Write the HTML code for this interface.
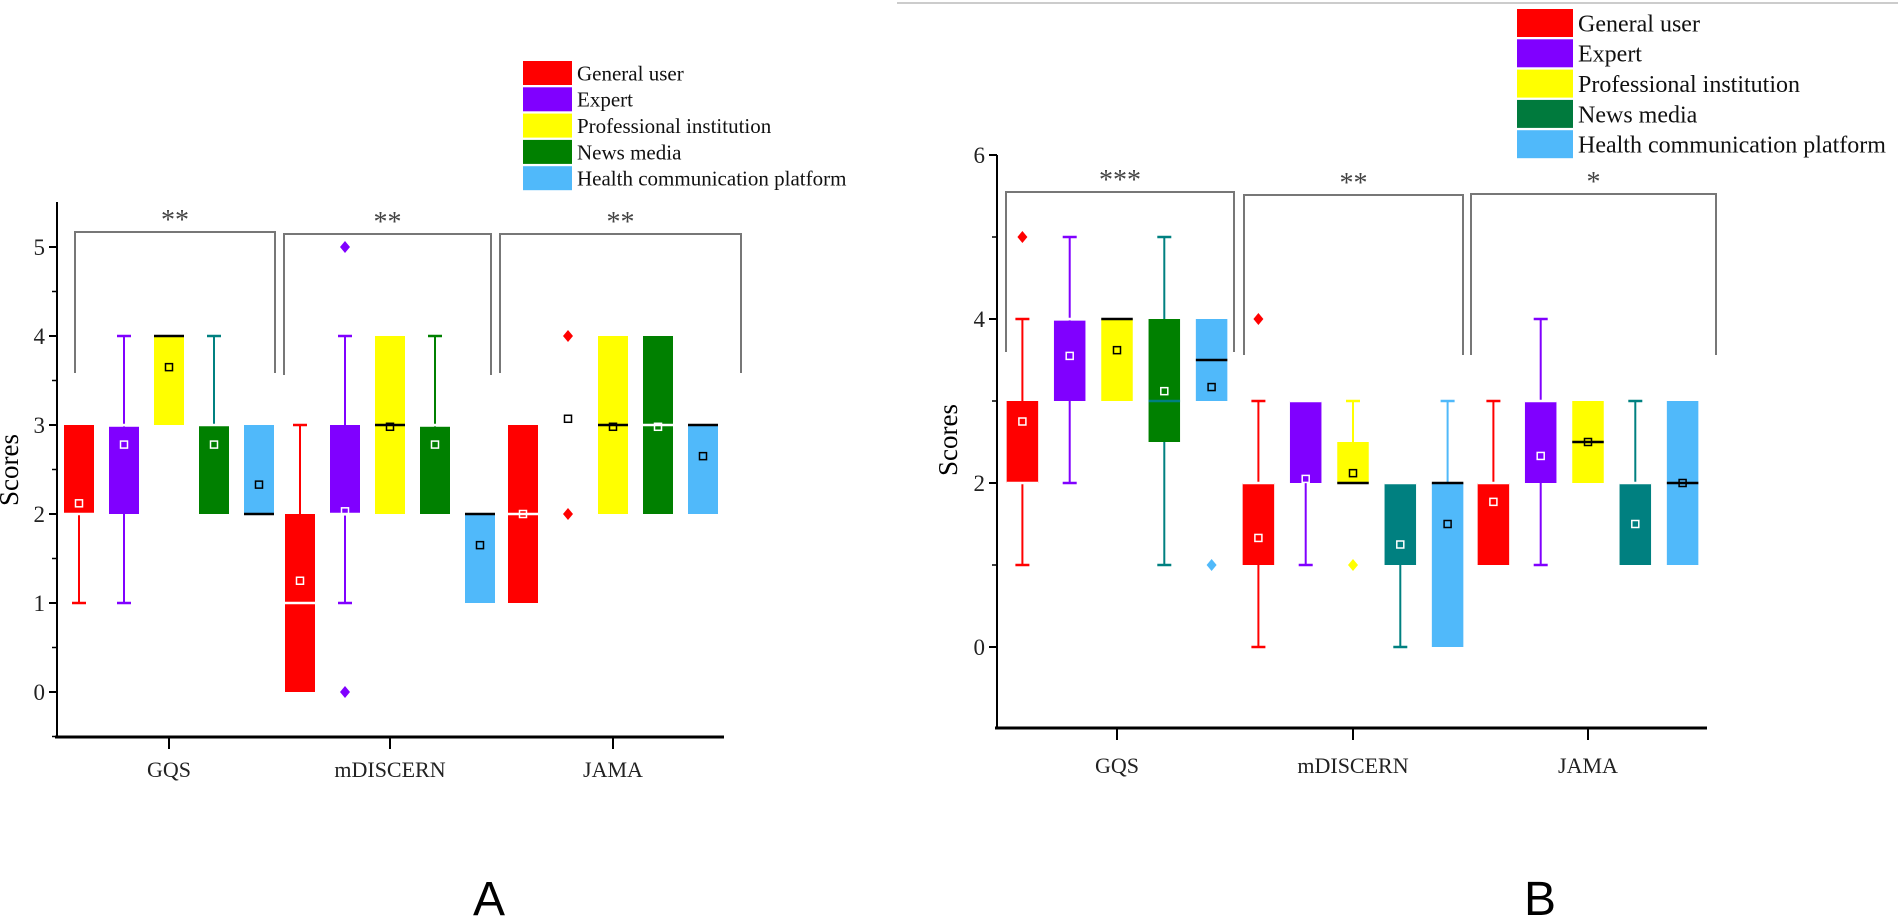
<!DOCTYPE html>
<html><head><meta charset="utf-8"><style>
html,body{margin:0;padding:0;background:#fff;}
svg{display:block;font-family:"Liberation Serif",serif;}
</style></head><body>
<svg id="fig" width="1901" height="920" viewBox="0 0 1901 920" xmlns="http://www.w3.org/2000/svg">
<line x1="897" y1="3" x2="1898" y2="3" stroke="#ccc" stroke-width="2"/>
<text x="489" y="915" font-family="Liberation Sans, sans-serif" font-size="48" text-anchor="middle">A</text>
<text x="1540" y="915" font-family="Liberation Sans, sans-serif" font-size="48" text-anchor="middle">B</text>
</svg>
<script>
const groups = ["GQS","mDISCERN","JAMA"];
const seriesNames = ["General user","Expert","Professional institution","News media","Health communication platform"];
const starsA = ["**","**","**"];
const starsB = ["***","**","*"];
const ticksA = [0,1,2,3,4,5];
const ticksB = [0,2,4,6];
// panel A (GQS x5, mDISCERN x5, JAMA x5)
const q1A = [2,2,3,2,2, 0,2,2,2,1, 1,3,2,2,2];
const q3A = [3,2.98,4,3,3, 2,3,4,2.98,2, 3,3,4,4,3];
const medA = [2,3,4,3,2, 1,2,3,3,2, 2,3,3,3,3];
const loA = [1,1,null,null,null, null,1,null,null,null, null,null,null,null,null];
const hiA = [null,4,null,4,null, 3,4,null,4,null, null,null,null,null,null];
const meanA = [2.12,2.78,3.65,2.78,2.33, 1.25,2.03,2.98,2.78,1.65, 2.0,3.07,2.98,2.98,2.65];
const outA = [[],[],[],[],[], [],[5,0],[],[],[], [],[4,2],[],[],[]];
// panel B
const q1B = [2,3,3,2.5,3, 1,2,2,1,0, 1,2,2,1,1];
const q3B = [3,3.98,4,4,4, 2,3,2.5,2,2, 2,3,3,2,3];
const medB = [2,4,4,3,3.5, 2,3,2,2,2, 2,3,2.5,2,2];
const loB = [1,2,null,1,null, 0,1,null,0,null, null,1,null,null,null];
const hiB = [4,5,null,5,null, 3,null,3,null,3, 3,4,null,3,null];
const meanB = [2.75,3.55,3.62,3.12,3.17, 1.33,2.05,2.12,1.25,1.5, 1.77,2.33,2.5,1.5,2.0];
const outB = [[5],[],[],[],[1], [4],[],[1],[],[], [],[],[],[],[]];

const NS="http://www.w3.org/2000/svg";
const svg=document.getElementById('fig');
function mk(tag,attrs,parent){const e=document.createElementNS(NS,tag);for(const k in attrs)e.setAttribute(k,attrs[k]);(parent||svg).appendChild(e);return e;}

const baseColors=["#ff0000","#8000ff","#ffff00","#008000","#50b9fa"];

function panel(cfg){
  const g=mk('g',{});
  
  
  const y=v=>cfg.y0-cfg.unit*v;
  const ya=mk('line',{x1:cfg.ax,y1:cfg.axTop,x2:cfg.ax,y2:cfg.axBot,stroke:'#000','stroke-width':2},g);
  
  
  const xa=mk('line',{x1:cfg.ax-2,y1:cfg.axBot,x2:cfg.axRight,y2:cfg.axBot,stroke:'#000','stroke-width':3},g);
  
  
  cfg.ticks.forEach(t=>{
    mk('line',{x1:cfg.ax-8,y1:y(t),x2:cfg.ax,y2:y(t),stroke:'#000','stroke-width':2},g);
    const tl=mk('text',{x:cfg.ax-12,y:y(t)+8,'font-size':23,'text-anchor':'end',fill:'#222'},g);
    tl.textContent=t;
    
    
  });
  cfg.minor.forEach(t=>{mk('line',{x1:cfg.ax-5,y1:y(t),x2:cfg.ax,y2:y(t),stroke:'#000','stroke-width':1.5},g);});
  const yt=mk('text',{x:0,y:0,'font-size':27,'text-anchor':'middle',transform:`translate(${cfg.ytx},${cfg.yty}) rotate(-90)`},g);
  yt.textContent='Scores';
  
  
  groups.forEach((gn,gi)=>{
    const cx=cfg.gx[gi];
    mk('line',{x1:cx,y1:cfg.axBot,x2:cx,y2:cfg.axBot+12,stroke:'#000','stroke-width':2},g);
    const xl=mk('text',{x:cx,y:cfg.xly,'font-size':22,'text-anchor':'middle',fill:'#222'},g);
    xl.textContent=gn;
    
    
    const b=cfg.brackets[gi];
    const br=mk('path',{d:`M${b[0]},${b[3]} L${b[0]},${b[2]} L${b[1]},${b[2]} L${b[1]},${b[3]}`,fill:'none',stroke:'#777','stroke-width':2},g);
    
    
    const st=mk('text',{x:(b[0]+b[1])/2,y:b[2]-3,'font-size':28,'text-anchor':'middle',fill:'#444'},g);
    st.textContent=cfg.stars[gi];
    
    
    for(let si=0;si<5;si++){
      const k=gi*5+si;
      const x=cx+(si-2)*cfg.sp, w=cfg.bw;
      let col=baseColors[si];
      if(si===3&&gi>0&&cfg.teal) col="#008080";
      const wcol=(si===3&&gi===0)?"#008080":col;
      const light=(si===2||si===4);
      const bg=mk('g',{},g);
      
      
      const lo=cfg.lo[k],hi=cfg.hi[k];
      if(hi!=null){mk('line',{x1:x,y1:y(cfg.q3[k]),x2:x,y2:y(hi),stroke:wcol,'stroke-width':2},bg);mk('line',{x1:x-7,y1:y(hi),x2:x+7,y2:y(hi),stroke:wcol,'stroke-width':2.5},bg);}
      if(lo!=null){mk('line',{x1:x,y1:y(cfg.q1[k]),x2:x,y2:y(lo),stroke:wcol,'stroke-width':2},bg);mk('line',{x1:x-7,y1:y(lo),x2:x+7,y2:y(lo),stroke:wcol,'stroke-width':2.5},bg);}
      const h=y(cfg.q1[k])-y(cfg.q3[k]);
      if(h>0) mk('rect',{x:x-w/2,y:y(cfg.q3[k]),width:w,height:h,fill:col},bg);
      if(h>0){
        let mc=light?'#000':'#fff';
        if(si===3&&gi===0&&cfg.teal) mc="#008080";
        mk('line',{x1:x-w/2,y1:y(cfg.med[k]),x2:x+w/2,y2:y(cfg.med[k]),stroke:mc,'stroke-width':2.5},bg);
      }
      const sc=(light||h<=0)?'#000':'#fff';
      mk('rect',{x:x-3.5,y:y(cfg.mean[k])-3.5,width:7,height:7,fill:'none',stroke:sc,'stroke-width':1.5},bg);
      const oc=(h<=0)?cfg.degenOutlier:col;
      cfg.out[k].forEach(o=>{
        mk('path',{d:`M${x},${y(o)-6} L${x+5},${y(o)} L${x},${y(o)+6} L${x-5},${y(o)} Z`,fill:oc},bg);
      });
    }
  });
  seriesNames.forEach((n,i)=>{
    const ly=cfg.legY+i*cfg.legSp;
    const lg=mk('g',{},g);
    
    
    let col=baseColors[i]; if(i===3&&cfg.teal) col="#007a3d";
    mk('rect',{x:cfg.legX,y:ly-cfg.legH/2,width:cfg.legW,height:cfg.legH,fill:col},lg);
    const t=mk('text',{x:cfg.legX+cfg.legW+5,y:ly+cfg.legF*0.35,'font-size':cfg.legF,fill:'#111'},lg);
    t.textContent=n;
  });
}

panel({name:'panel-a-chart',y0:692,unit:89,ax:57,axTop:202,axBot:737,axRight:724,
  ticks:ticksA,minor:[0.5,1.5,2.5,3.5,4.5,-0.5],ytx:18,yty:470,
  gx:[169,390,613],xly:777,sp:45,bw:30,stars:starsA,degenOutlier:"#ff0000",
  brackets:[[75,275,232,373],[284,491,234,375],[500,741,234,373]],
  q1:q1A,q3:q3A,med:medA,lo:loA,hi:hiA,mean:meanA,out:outA,teal:false,
  legX:523,legY:73,legSp:26.3,legW:49,legH:24,legF:21});
panel({name:'panel-b-chart',y0:647,unit:82,ax:997,axTop:155,axBot:728,axRight:1707,
  ticks:ticksB,minor:[1,3,5],ytx:957,yty:440,
  gx:[1117,1353,1588],xly:773,sp:47.3,bw:31.5,stars:starsB,degenOutlier:"#ff0000",
  brackets:[[1006,1234,192,352],[1244,1463,195,355],[1471,1716,194,355]],
  q1:q1B,q3:q3B,med:medB,lo:loB,hi:hiB,mean:meanB,out:outB,teal:true,
  legX:1517,legY:23,legSp:30.3,legW:56,legH:28,legF:24});
</script>
</body></html>
